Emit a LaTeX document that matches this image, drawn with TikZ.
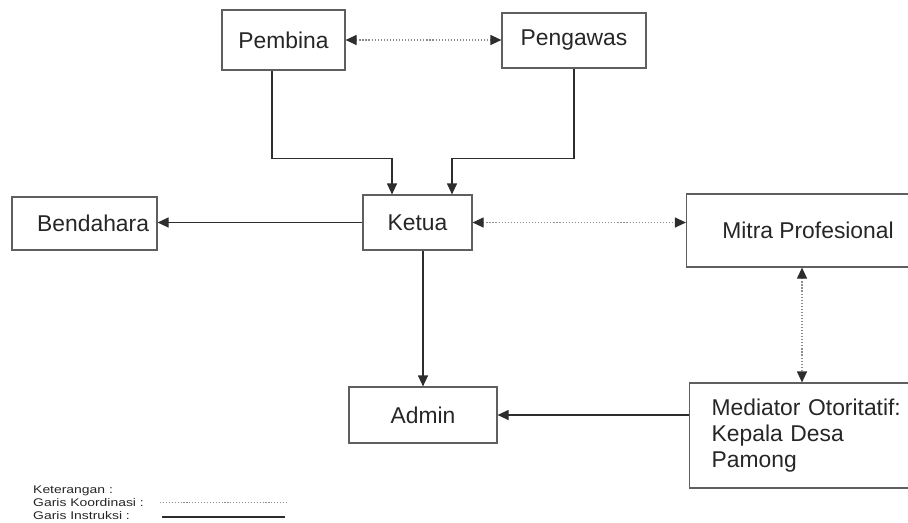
\documentclass[tikz,border=0pt]{standalone}
\usepackage{fontspec}
\setmainfont{Liberation Sans}
\newfontfamily\legendfont[FakeStretch=1.25]{Liberation Sans}
\usetikzlibrary{arrows.meta}
\definecolor{orgLine}{RGB}{45,45,45}
\definecolor{orgBorder}{RGB}{95,95,95}
\definecolor{orgDots}{RGB}{140,140,140}

\begin{document}
\begin{tikzpicture}[
  x=0.03cm, y=-0.03cm,
  unit/.style={
    draw=orgBorder,
    line width=1pt,
    inner sep=0pt,
    align=center,
    text=black!85,
    font=\fontsize{19.5}{22}\selectfont
  },
  arrow/.style={-{Triangle[length=3.3mm,width=3mm]},line width=1pt,orgLine},
  coord/.style={{Triangle[length=3.3mm,width=3mm,color=orgLine]}-{Triangle[length=3.3mm,width=3mm,color=orgLine]},
    line width=1pt,orgDots,dash pattern=on 1pt off 1.6pt},
  legend/.style={anchor=west,inner sep=0pt,text=black!85,font=\legendfont\fontsize{9.5}{11}\selectfont}
]
  \useasboundingbox (0,0) rectangle (908,522);
  \clip (0,0) rectangle (908,522);
  \node[unit,minimum width=3.69cm,minimum height=1.8cm] (pembina) at (283.5,40) {Pembina};
  \node[unit,minimum width=4.32cm,minimum height=1.65cm] (pengawas) at (574,40.5) {Pengawas};
  \node[unit,minimum width=3.27cm,minimum height=1.65cm] (ketua) at (417.5,222.5) {Ketua};
  \node[unit,align=right,text width=3.87cm,inner xsep=0.24cm,minimum height=1.59cm] (bendahara) at (84.5,223.5) {Bendahara};
  \node[unit,minimum width=7.29cm,minimum height=2.19cm] (mitra) at (808,230.5) {Mitra Profesional};
  \node[unit,align=left,text width=6.2cm,inner xsep=0.66cm,minimum height=3.15cm] (mediator) at (815,435.5) {Mediator Otoritatif:\\Kepala Desa\\Pamong};
  \node[unit,minimum width=4.44cm,minimum height=1.68cm] (admin) at (423,415) {Admin};
  % garis instruksi
  \draw[arrow] ([xshift=-0.345cm]pembina.south) -- ++(0,88) -| ([xshift=-0.765cm]ketua.north);
  \draw[arrow] (pengawas.south) -- ++(0,90) -| ([xshift=1.035cm]ketua.north);
  \draw[arrow] (ketua.west) -- (ketua.west -| bendahara.east);
  \draw[arrow] (ketua.south -| admin.north) -- (admin.north);
  \draw[arrow] (mediator.west |- admin.east) -- (admin.east);
  % garis koordinasi
  \draw[coord] (pembina.east) -- (pembina.east -| pengawas.west);
  \draw[coord] (ketua.east) -- (ketua.east -| mitra.west);
  \draw[coord] ([xshift=-0.18cm]mitra.south) -- ([xshift=-0.18cm]mitra.south |- mediator.north);
  % keterangan
  \node[legend] (keterangan) at (33,491) {Keterangan :};
  \node[legend] (koordinasi) at (33,503) {Garis Koordinasi :};
  \node[legend] (instruksi) at (33,516) {Garis Instruksi :};
  \coordinate (koordA) at (160,502);
  \coordinate (koordB) at (287,502);
  \coordinate (instrA) at (162,517);
  \coordinate (instrB) at (285,517);
  \draw[orgDots,line width=0.8pt,dash pattern=on 1pt off 1.5pt] (koordA) -- (koordB);
  \draw[orgLine,line width=1pt] (instrA) -- (instrB);
\end{tikzpicture}
\end{document}
